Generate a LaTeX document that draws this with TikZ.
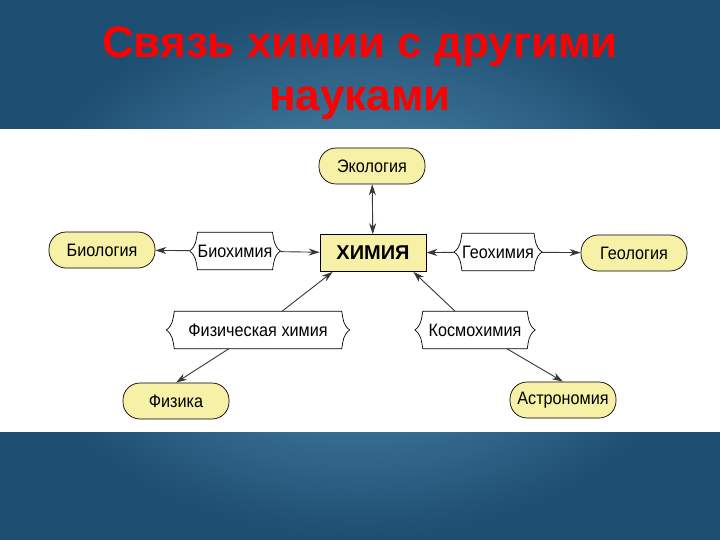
\documentclass[tikz,border=0pt]{standalone}
\usepackage{fontspec}
\setmainfont{Liberation Sans}
\newfontfamily\narrowsans[FakeStretch=0.9]{Liberation Sans}
\usetikzlibrary{arrows.meta}

\definecolor{bgdark}{RGB}{30,78,113}
\definecolor{bglight}{RGB}{90,154,192}
\definecolor{sciyellow}{RGB}{246,241,166}
\definecolor{linkgray}{RGB}{55,55,55}

% outline with curly pointed ends, drawn round a placed node
\newcommand{\bracebox}[1]{%
  \draw[line width=0.7pt] (#1.west) to[out=35,in=-100] ([xshift=8pt]#1.north west)
    -- ([xshift=-8pt]#1.north east) to[out=-80,in=145] (#1.east)
    to[out=-145,in=80] ([xshift=-8pt]#1.south east)
    -- ([xshift=8pt]#1.south west) to[out=100,in=-35] (#1.west);}

\begin{document}
\begin{tikzpicture}
    [x=1pt,y=-1pt,
     science/.style={draw,line width=0.7pt,fill=sciyellow,rounded corners=17pt,
       minimum width=106pt,minimum height=36pt,inner xsep=2pt,font=\narrowsans\fontsize{18}{20}\selectfont},
     chembox/.style={draw,line width=0.7pt,fill=sciyellow,minimum width=106pt,
       minimum height=37pt,font=\fontsize{20}{22}\selectfont\bfseries},
     bridge/.style={minimum height=37pt,inner xsep=8pt,font=\narrowsans\fontsize{18}{20}\selectfont},
     link/.style={draw=linkgray,line width=0.9pt,-{Stealth[length=11pt,width=7pt]}}]
    \useasboundingbox (0,0) rectangle (720,540);
    \shade[inner color=bglight,outer color=bgdark] (0,0) rectangle (720,540);
    \fill[white] (0,129) rectangle (720,432);

    \node[anchor=base,text=red,font=\fontsize{44}{48}\selectfont\bfseries] (title1) at (360,58) {Связь химии с другими};
    \node[anchor=base,text=red,font=\fontsize{44}{48}\selectfont\bfseries] (title2) at (360,111) {науками};

    \node[science] (eco) at (372,166) {Экология};
    \node[chembox] (chem) at (373,253) {ХИМИЯ};
    \node[science] (bio) at (102,250) {Биология};
    \node[science] (geo) at (634,253) {Геология};
    \node[science] (phys) at (176,401) {Физика};
    \node[science] (astro) at (563,400) {Астрономия};

    \node[bridge] (biochem) at (235,251) {Биохимия};
    \node[bridge] (geochem) at (498,252) {Геохимия};
    \node[bridge,minimum width=183pt] (physchem) at (258,330) {Физическая химия};
    \node[bridge,minimum width=120pt] (cosmo) at (475,330) {Космохимия};
    \bracebox{biochem}
    \bracebox{geochem}
    \bracebox{physchem}
    \bracebox{cosmo}

    \draw[link,{Stealth[length=11pt,width=7pt]}-{Stealth[length=11pt,width=7pt]}] (eco) -- (chem);
    \draw[link] (biochem) -- (bio);
    \draw[link] (biochem) -- (chem);
    \draw[link] (geochem) -- (chem);
    \draw[link] (geochem) -- (geo);
    \draw[link] (physchem) -- ([xshift=13pt]chem.south west);
    \draw[link] (physchem) -- (phys.north);
    \draw[link] (cosmo) -- ([xshift=-13pt]chem.south east);
    \draw[link] (cosmo) -- (astro.north);
\end{tikzpicture}
\end{document}
